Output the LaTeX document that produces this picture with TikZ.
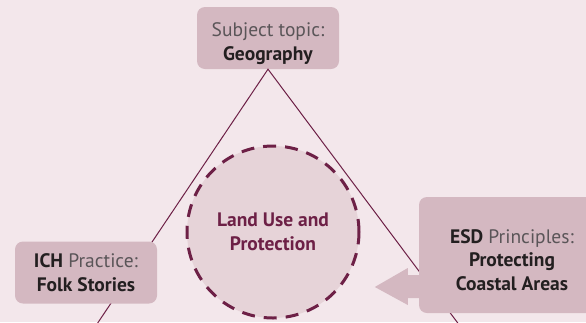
\documentclass[tikz,border=0pt]{standalone}
\usepackage{fontspec}
\setmainfont{PT Sans}
\definecolor{bgpink}{HTML}{F3E7EB}
\definecolor{boxpink}{HTML}{D4B8C1}
\definecolor{circpink}{HTML}{E6D3D8}
\definecolor{wine}{HTML}{6D2046}
\definecolor{inkgray}{HTML}{231F20}
\definecolor{lightgray}{HTML}{5A5558}
\begin{document}
\begin{tikzpicture}[x=1pt,y=-1pt,font=\fontsize{19.5}{23.5}\selectfont,
    box node/.style={rectangle,rounded corners=8pt,fill=boxpink,text=inkgray,align=center,inner sep=0pt,minimum width=142pt,minimum height=62pt},
    topic node/.style={circle,fill=circpink,draw=wine,line width=3pt,dash pattern=on 13pt off 9pt,minimum size=172pt,text=wine,align=center,font=\fontsize{19.5}{23.5}\selectfont\bfseries},
    side line/.style={wine,line width=1pt}]
    \useasboundingbox (0,0) rectangle (586,322);
    \clip (0,0) rectangle (586,322);
    \fill[bgpink] (0,0) rectangle (586,322);

    \node[box node] at (268, 38) (subj) {\rule{0pt}{25pt}{\color{lightgray}Subject topic:}\\\textbf{Geography}};
    \coordinate (bl) at (93, 330);
    \coordinate (br) at (463, 330);
    \draw[side line] (bl) -- (subj.south) -- (br);

    \node[box node] at (86, 272.5) (ich) {\textbf{ICH} {\color{lightgray}Practice:}\\\textbf{Folk Stories}};
    \node[topic node] at (273, 232) (land) {Land Use and\\Protection};
    \node[box node,minimum width=190pt,minimum height=116pt] at (514, 255) (esdbox) {};
    \fill[boxpink] ([xshift=1pt,yshift=-20pt]esdbox.west) -- ++(-12,0) -- ++(0,-7) -- ++(-33,19) -- ++(33,18) -- ++(0,-7) -- ++(12,0) -- cycle;
    \node[text=inkgray,align=center] at (512, 260) (esd) {\textbf{ESD} {\color{lightgray}Principles:}\\\textbf{Protecting}\\\textbf{Coastal Areas}};
\end{tikzpicture}
\end{document}
